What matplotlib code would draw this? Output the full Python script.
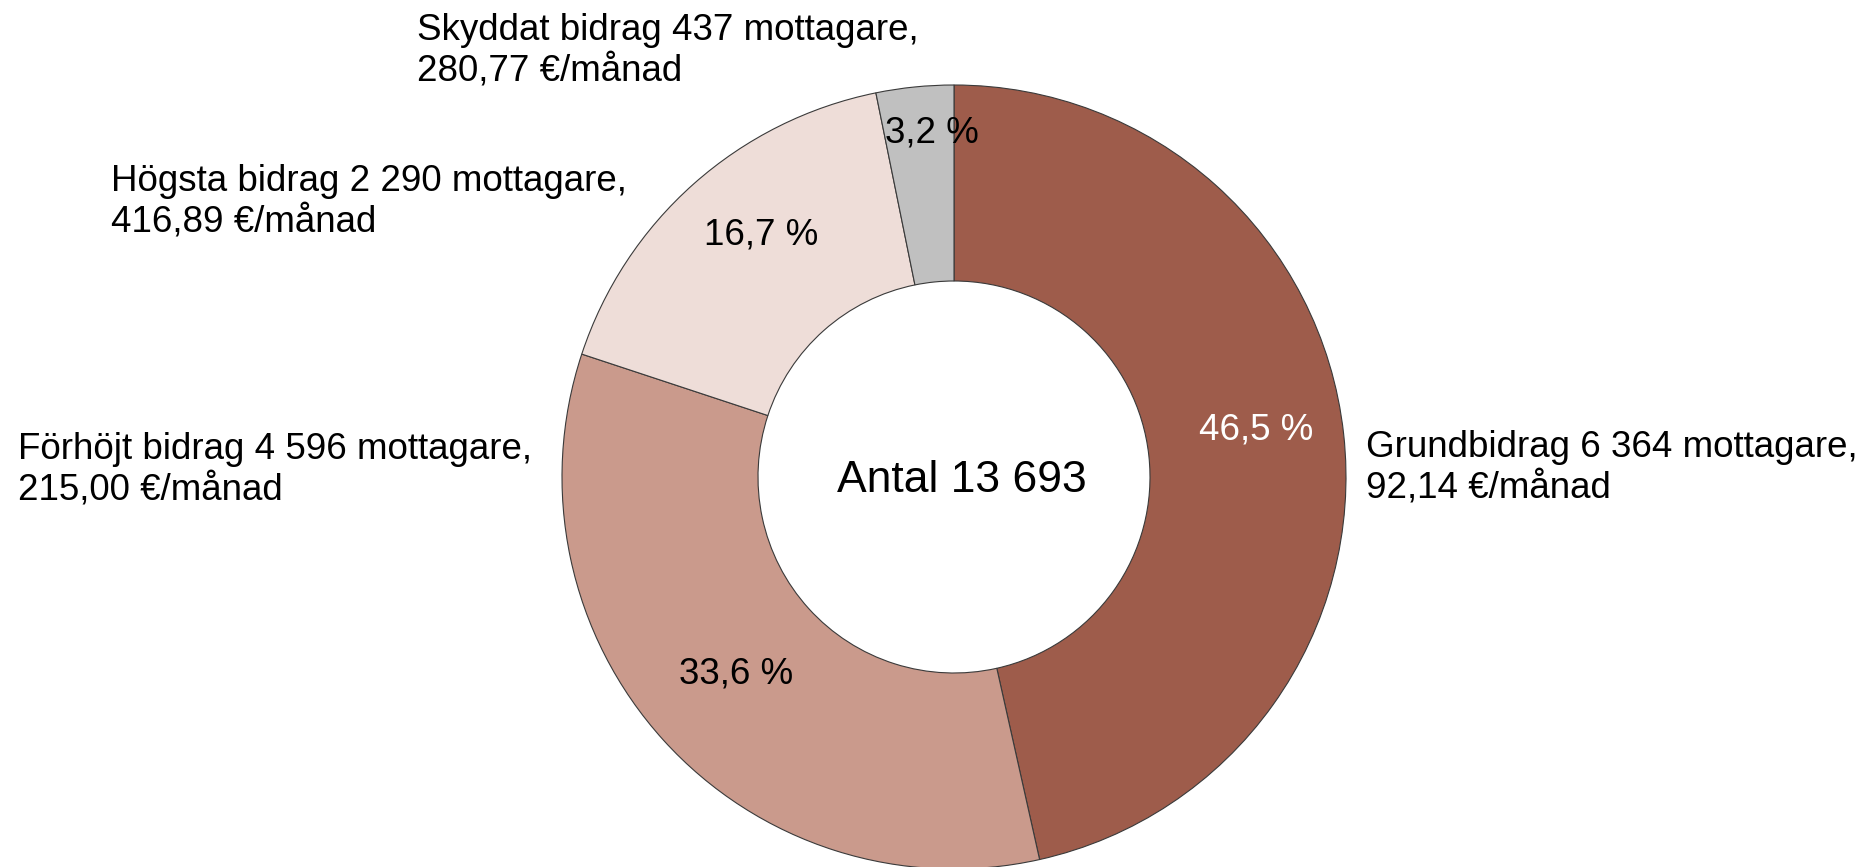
import numpy as np
import matplotlib
matplotlib.use('Agg')
import matplotlib.pyplot as plt

plt.rcParams['font.family'] = ['Liberation Sans', 'DejaVu Sans']

# Data
kategorier = ['Grundbidrag', 'Förhöjt bidrag', 'Högsta bidrag', 'Skyddat bidrag']
mottagare = [6364, 4596, 2290, 437]
belopp = ['92,14', '215,00', '416,89', '280,77']
andel = ['46,5 %', '33,6 %', '16,7 %', '3,2 %']
antal_totalt = 13693  # as printed in the source chart
farger = ['#9E5C4B', '#CA9A8C', '#EEDDD8', '#C0C0C0']

def tal(n):
    return f'{n:,}'.replace(',', ' ')

W, H = 1870, 867
fig = plt.figure(figsize=(W / 100, H / 100), dpi=100)

# pie centre (954, 477) px from top, radius 392 px
cx, cy, r = 954, 477, 392
ax = fig.add_axes([(cx - r) / W, (H - cy - r) / H, 2 * r / W, 2 * r / H])

wedges, _ = ax.pie(mottagare, colors=farger, startangle=90, counterclock=False,
                   radius=1.0, wedgeprops=dict(width=0.5, edgecolor='#3a3a3a', linewidth=0.8))
ax.set_xlim(-1, 1)
ax.set_ylim(-1, 1)
ax.set_aspect('equal')
for w in wedges:
    w.set_clip_on(False)

# percentage labels
avstand = [0.78, 0.75, 0.79, 0.88]
vridning = [2.5, 0, -3, -2]   # small angular nudges, degrees
textfarg = ['white', 'black', 'black', 'black']
for w, txt, d, v, c in zip(wedges, andel, avstand, vridning, textfarg):
    mid = np.deg2rad((w.theta1 + w.theta2) / 2 + v)
    x, y = d * np.cos(mid), d * np.sin(mid)
    ax.text(x, y, txt, ha='center', va='center', fontsize=26.5, color=c)

ax.text(0.02, -0.01, f'Antal {tal(antal_totalt)}', ha='center', va='center', fontsize=32)

# outer labels (left edge x px, block centre y px)
etikett_pos = [(1366, 468), (18, 470), (111, 202), (417, 51)]
for namn, n, b, (px, py) in zip(kategorier, mottagare, belopp, etikett_pos):
    fig.text(px / W, 1 - py / H, f'{namn} {tal(n)} mottagare,\n{b} €/månad',
             ha='left', va='center', fontsize=26.5, linespacing=1.2)

fig.savefig('out.png', dpi=100, facecolor='white')
